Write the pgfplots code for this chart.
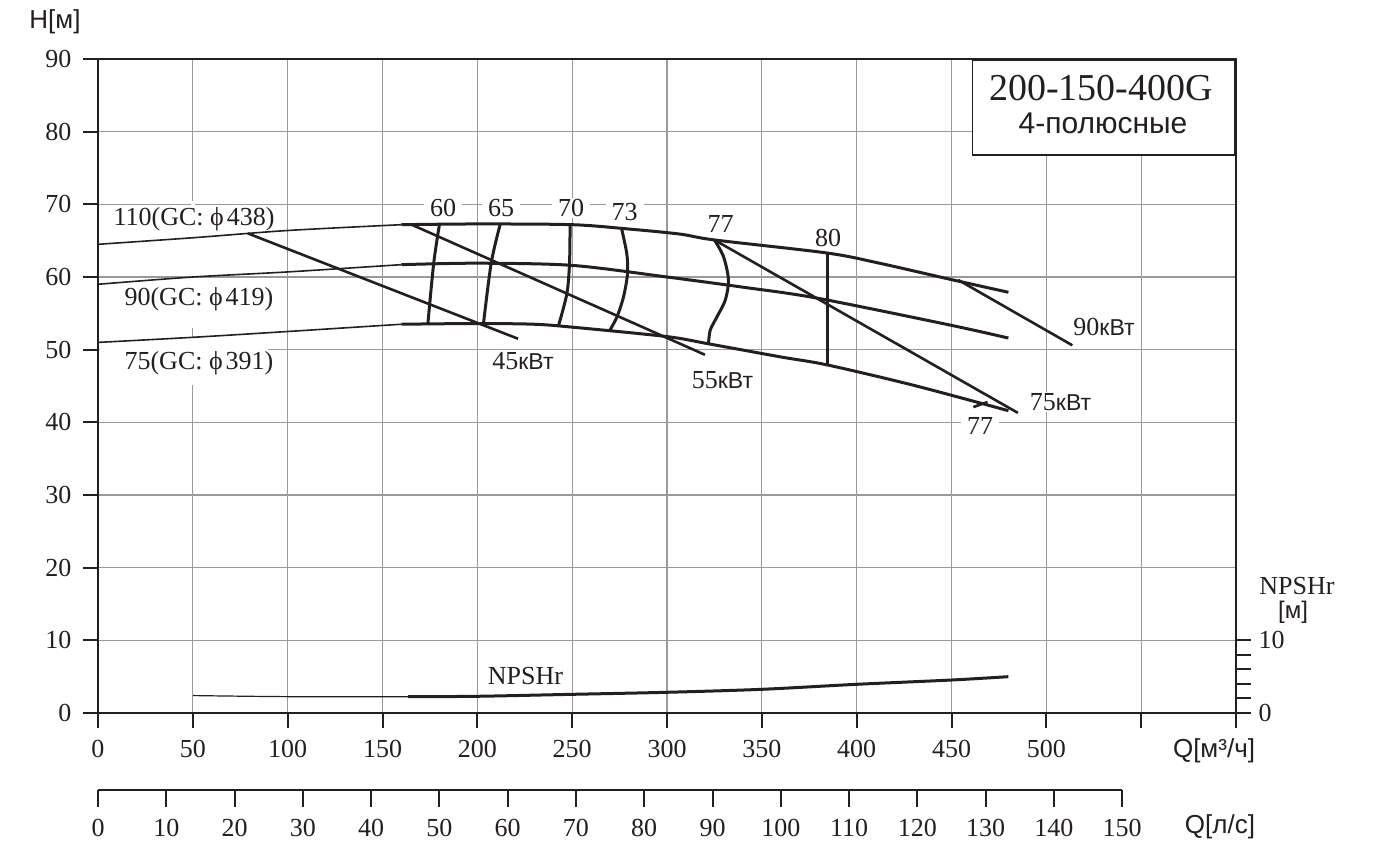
\documentclass[border=0pt]{standalone}
\usepackage{pgfplots}
\pgfplotsset{compat=1.18}
\usepackage{fontspec}
\setmainfont{Liberation Serif}
\newfontfamily\sans{Liberation Sans}
\definecolor{ink}{HTML}{231F20}
\definecolor{gridc}{HTML}{9A9A9A}
\pgfplotsset{
  common/.style={scale only axis, anchor=south west,
    tick align=outside,
    every tick/.style={line width=2pt, ink},
    axis line style={line width=2.2pt, ink},
    ticklabel style={font=\fontsize{26}{30}\selectfont, text=ink},
    /pgf/number format/assume math mode=true,
    clip=false},
  thinc/.style={ink, line width=1.6pt, smooth, no markers},
  thickc/.style={ink, line width=3pt, smooth, no markers},
  powerl/.style={ink, line width=2.6pt, no markers},
}
\newcommand{\kw}{{\sans\fontsize{23}{26}\selectfont кВт}}
\begin{document}
\begin{tikzpicture}[x=1pt,y=1pt]
\useasboundingbox (-98pt,-131pt) rectangle (1277pt,713pt);
% main axis
\begin{axis}[common, at={(0pt,0pt)}, width=1138pt, height=654pt,
  xmin=0, xmax=600, ymin=0, ymax=90,
  xtick={0,50,...,600},
  xticklabels={0,50,100,150,200,250,300,350,400,450,500,,},
  ytick={0,10,...,90},
  xtick pos=left, ytick pos=left, major tick length=15pt,
  xticklabel style={yshift=-9pt}, yticklabel style={xshift=-8pt},
  grid=major, grid style={line width=1.2pt, gridc},
]
% gaps in the grid behind the left labels
\fill[white] (axis cs:1,51.6) rectangle (axis cs:89.7,45.1);
\fill[white] (axis cs:49.0,70.5) rectangle (axis cs:51.1,53.0);
% head curves, thin parts
\addplot[thinc] coordinates {(0,64.5) (50,65.4) (100,66.4) (160,67.2)};
\addplot[thinc] coordinates {(0,59.0) (50,60.0) (100,60.7) (160,61.7)};
\addplot[thinc] coordinates {(0,51.0) (50,51.7) (100,52.5) (160,53.5)};
% head curves, thick parts
\addplot[thickc] coordinates {(160,67.2) (200,67.3) (250,67.2) (280,66.6) (307,65.9) (325,65.1) (384.5,63.3) (412,61.9) (449,59.7) (480,57.9)};
\addplot[thickc] coordinates {(160,61.7) (200,61.9) (250,61.6) (300,60.0) (340,58.6) (379,57.1) (449,53.4) (480,51.6)};
\addplot[thickc] coordinates {(160,53.5) (200,53.6) (230,53.5) (250,53.1) (300,51.8) (322,50.8) (360,49.0) (384.5,47.9) (430,45.1) (480,41.6)};
% power lines
\addplot[powerl] coordinates {(79,66.0) (221.5,51.5)};
\addplot[powerl] coordinates {(164.5,67.3) (320,49.3)};
\addplot[powerl] coordinates {(325,65.1) (485,41.3)};
\addplot[powerl] coordinates {(453.5,59.6) (513.7,50.6)};
% efficiency curves
\addplot[thickc] coordinates {(180,67.2) (177,61.9) (173.9,53.5)};
\addplot[thickc] coordinates {(212,67.2) (207.3,61.9) (203.2,53.5)};
\addplot[thickc] coordinates {(248.9,67.2) (248.6,61.9) (247.2,57.7) (242.8,53.3)};
\addplot[thickc] coordinates {(276.2,66.5) (278.8,63.2) (279.2,60.5) (277.1,57.3) (273.6,54.5) (269.7,52.6)};
\addplot[thickc] coordinates {(325,65.1) (329.8,62.8) (332.4,59.6) (330.7,56.8) (326.3,54.5) (322.8,52.7) (321.9,50.9)};
\addplot[thickc] coordinates {(384.5,63.3) (384.5,47.9)};
\addplot[powerl] coordinates {(461.5,42.1) (469,42.8)};
% NPSHr
\addplot[ink, line width=1.2pt, smooth] coordinates {(50,2.4) (100,2.25) (163.5,2.24)};
\addplot[thickc] coordinates {(163.5,2.24) (200,2.3) (250,2.57) (300,2.85) (350,3.26) (400,3.95) (450,4.54) (480,5.0)};
\end{axis}
% NPSHr scale on the right
\begin{axis}[common, at={(0pt,0pt)}, width=1138pt, height=654pt,
  xmin=0, xmax=600, ymin=0, ymax=90,
  hide x axis, axis y line*=right,
  ytick={0,2,...,10}, yticklabels={0,,,,,10}, major tick length=15pt,
  yticklabel style={xshift=4pt},
]
\end{axis}
% l/s scale
\begin{axis}[common, at={(0pt,-77pt)}, width=1024.2pt, height=10pt,
  xmin=0, xmax=150, ymin=0, ymax=1,
  hide y axis, axis x line*=bottom,
  xtick={0,10,...,150}, major tick length=17pt,
  xticklabel style={yshift=-9pt},
]
\end{axis}
% texts
\begin{scope}[every node/.style={text=ink, inner sep=0pt}]
\node[font=\sans\fontsize{26}{30}\selectfont] at (-43pt,691pt) {H[м]};
\node[font=\sans\fontsize{26}{30}\selectfont] at (1116pt,-38pt) {Q[м³/ч]};
\node[font=\sans\fontsize{26}{30}\selectfont] at (1122pt,-114pt) {Q[л/с]};
\node[font=\fontsize{26}{30}\selectfont] at (1199pt,127pt) {NPSHr};
\node[font=\sans\fontsize{24}{30}\selectfont] at (1195pt,101pt) {[м]};
\draw[ink, line width=1.5pt, fill=white] (874.7pt,653pt) rectangle (1137pt,558pt);
\node[font=\fontsize{38}{42}\selectfont] at (1003pt,625pt) {200-150-400G};
\node[font=\sans\fontsize{30}{34}\selectfont] at (1005pt,590pt) {4-полюсные};
\end{scope}
\begin{scope}[every node/.style={text=ink, font=\fontsize{26}{30}\selectfont, fill=white, inner xsep=3pt, inner ysep=1pt}]
\node[fill=none] at (96pt,494pt) {110(GC: ϕ\kern3pt 438)};
\node at (101pt,414pt) {90(GC: ϕ\kern3pt 419)};
\node at (101pt,350pt) {75(GC: ϕ\kern3pt 391)};
\node[inner xsep=6pt] at (345pt,505pt) {60};
\node[inner xsep=6pt] at (403pt,505pt) {65};
\node[inner xsep=6pt] at (473pt,505pt) {70};
\node[inner xsep=6pt] at (526.5pt,500.5pt) {73};
\node at (622.5pt,489pt) {77};
\node at (730pt,475pt) {80};
\node[fill=none] at (425pt,352pt) {45\kw};
\node[fill=none] at (624.5pt,333pt) {55\kw};
\node at (962.5pt,311pt) {75\kw};
\node[fill=none] at (1006pt,386pt) {90\kw};
\node[inner xsep=6pt] at (882pt,287pt) {77};
\node[fill=none] at (427.5pt,37pt) {NPSHr};
\end{scope}
\end{tikzpicture}
\end{document}
